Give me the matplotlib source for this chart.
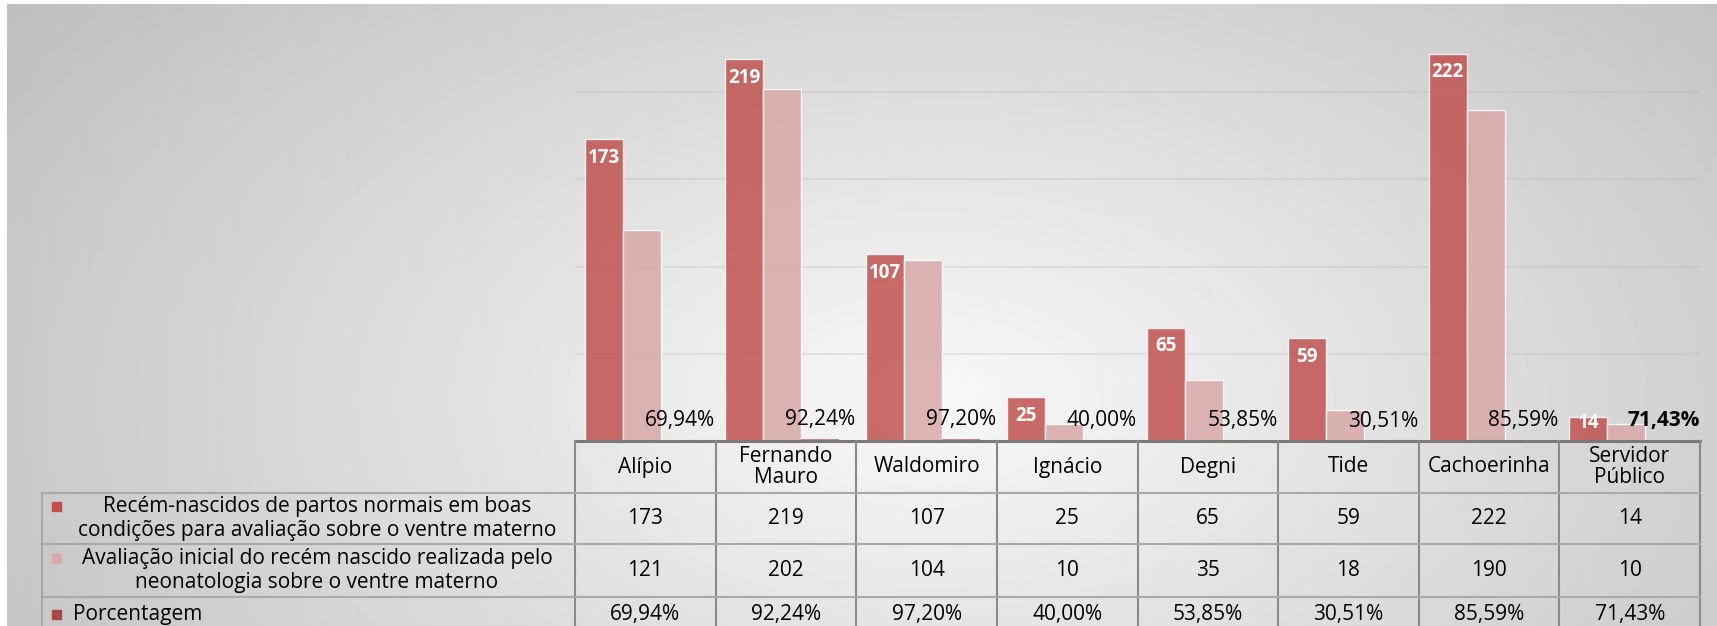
import numpy as np
import matplotlib.pyplot as plt
from matplotlib.patches import Rectangle

plt.rcParams['font.family'] = ['Open Sans', 'DejaVu Sans']

# dados por unidade
categorias = ["Alípio", "Fernando\nMauro", "Waldomiro", "Ignácio", "Degni",
              "Tide", "Cachoerinha", "Servidor\nPúblico"]
boas_condicoes = [173, 219, 107, 25, 65, 59, 222, 14]
avaliacao_neo = [121, 202, 104, 10, 35, 18, 190, 10]
porcentagem = [69.94, 92.24, 97.20, 40.00, 53.85, 30.51, 85.59, 71.43]

series = [
    "Recém-nascidos de partos normais em boas\ncondições para avaliação sobre o ventre materno",
    "Avaliação inicial do recém nascido realizada pelo\nneonatologia sobre o ventre materno",
    "Porcentagem",
]
cores = ["#C04F4C", "#D9A9A9", "#A84744"]


def pct(v):
    return f"{v:.2f}%".replace(".", ",")


W, H = 1717, 626
fig = plt.figure(figsize=(W / 100, H / 100), dpi=100)

# fundo com gradiente radial
bg = fig.add_axes([0, 0, 1, 1])
yy, xx = np.mgrid[4:H, 7:W]
r = np.hypot((xx - 930) / 900, (yy - 400) / 520)
grad = np.clip(0.975 - 0.18 * r, 0, 1)
bg.imshow(grad, cmap="gray", vmin=0, vmax=1, extent=(7, W, H, 4),
          aspect="auto", interpolation="bilinear")
bg.set_xlim(0, W)
bg.set_ylim(H, 0)
bg.axis("off")

# area do grafico de barras
x0, x1, base, topo = 575, 1700, 441, 5
ax = fig.add_axes([x0 / W, (H - base) / H, (x1 - x0) / W, (base - topo) / H])
ax.patch.set_alpha(0)
n = len(categorias)
x = np.arange(n)
ax.set_xlim(-0.5, n - 0.5)
ax.set_ylim(0, 250)
ax.set_yticks([50, 100, 150, 200])
ax.yaxis.grid(True, color="#b0b0b0", alpha=0.25, lw=1.5)
ax.set_axisbelow(True)
ax.tick_params(left=False, bottom=False, labelleft=False, labelbottom=False)
for s in ax.spines.values():
    s.set_visible(False)

w = 0.27
offs = [-0.295, -0.025, 0.245]
borda = (1, 1, 1, 0.45)
ax.bar(x + offs[0], boas_condicoes, w, color=cores[0], alpha=0.83,
       edgecolor=borda, lw=1)
ax.bar(x + offs[1], avaliacao_neo, w, color=cores[1], alpha=0.86,
       edgecolor=borda, lw=1)
ax.bar(x + offs[2], np.array(porcentagem) / 100, w, color=cores[2], alpha=0.6,
       lw=0)

for i, v in enumerate(boas_condicoes):
    ax.text(x[i] + offs[0], max(v - 10.7, 10.3), str(v), ha="center",
            va="center", color="white", fontsize=13.5, fontweight="bold")

for i, p in enumerate(porcentagem):
    peso = "bold" if i == n - 1 else "normal"
    ax.annotate(pct(p), (x[i] + offs[2], p / 100), xytext=(0, 14),
                textcoords="offset points", ha="center", va="center",
                fontsize=15, fontweight=peso, color="black")

# tabela de dados
ov = fig.add_axes([0, 0, 1, 1], zorder=5)
ov.patch.set_alpha(0)
ov.set_xlim(0, W)
ov.set_ylim(H, 0)
ov.axis("off")

col = (x1 - x0) / n
esq = 42
linhas_y = [493, 544, 597]
ov.plot([x0, x1], [base, base], color="#7a7a7a", lw=2.2)
for k in range(n + 1):
    ov.plot([x0 + k * col] * 2, [base, H], color="#8a8a8a", lw=1.5)
for yl in linhas_y:
    ov.plot([esq, x1], [yl, yl], color="#a9a9a9", lw=1.5)
ov.plot([esq, esq], [linhas_y[0], H], color="#a9a9a9", lw=1.5)

fs = 15
centros_y = [467, 518.5, 570.5, 614.5]
for k, c in enumerate(categorias):
    cx = x0 + (k + 0.5) * col
    ov.text(cx, centros_y[0], c, ha="center", va="center", fontsize=fs,
            linespacing=1.05)
    ov.text(cx, centros_y[1], str(boas_condicoes[k]), ha="center",
            va="center", fontsize=fs)
    ov.text(cx, centros_y[2], str(avaliacao_neo[k]), ha="center",
            va="center", fontsize=fs)
    ov.text(cx, centros_y[3], pct(porcentagem[k]), ha="center",
            va="center", fontsize=fs)

marc_y = [506, 558, 614.5]
for k, nome in enumerate(series):
    ov.add_patch(Rectangle((52, marc_y[k] - 4.5), 9, 9, color=cores[k]))
    if k < 2:
        ov.text(317, centros_y[k + 1], nome, ha="center", va="center",
                fontsize=fs, linespacing=1.17, multialignment="center")
    else:
        ov.text(73, centros_y[k + 1], nome, ha="left", va="center",
                fontsize=fs)

fig.savefig("out.png", dpi=100)
